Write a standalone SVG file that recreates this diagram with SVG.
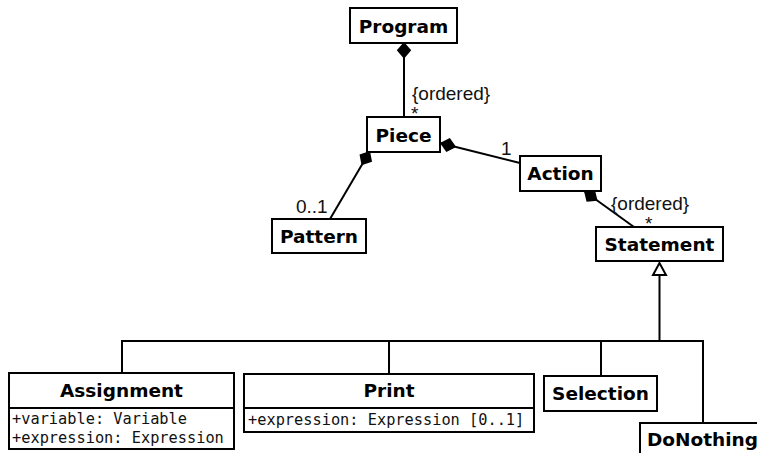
<svg xmlns="http://www.w3.org/2000/svg" width="757" height="453" viewBox="0 0 757 453">
  <style>
    .box { fill: #fff; stroke: #000; stroke-width: 2; }
    .title { font-family: "DejaVu Sans", sans-serif; font-weight: bold; font-size: 18.5px; fill: #000; text-anchor: middle; }
    .attr { font-family: "DejaVu Sans Mono", monospace; font-size: 15.3px; fill: #111; }
    .lbl { font-family: "Liberation Sans", Arial, sans-serif; font-size: 19px; fill: #111; }
    .edge { fill: none; stroke: #000; stroke-width: 2; }
  </style>
  <defs>
    <marker id="diamond" markerUnits="userSpaceOnUse" markerWidth="20" markerHeight="20" viewBox="-1 -8 18 16" refX="0" refY="0" orient="auto">
      <path d="M0,0 L7.5,-6.5 L15,0 L7.5,6.5 Z" fill="#000" stroke="none"/>
    </marker>
  </defs>

  <!-- connectors -->
  <g id="connectors">
    <path class="edge" d="M404,42 L404,117" marker-start="url(#diamond)"/>
    <path class="edge" d="M440,143 L520,163" marker-start="url(#diamond)"/>
    <path class="edge" d="M370,151 L330,219" marker-start="url(#diamond)"/>
    <path class="edge" d="M584,191 L634,227" marker-start="url(#diamond)"/>
    <!-- generalization tree -->
    <path class="edge" d="M659.5,275 L659.5,341"/>
    <path class="edge" d="M122,373 L122,341 L703,341 L703,423"/>
    <path class="edge" d="M389,341 L389,374"/>
    <path class="edge" d="M601,341 L601,376"/>
    <polygon points="659.5,263 653,275 666,275" fill="#fff" stroke="#000" stroke-width="2"/>
    <!-- role labels -->
    <text class="lbl" x="412" y="100">{ordered}</text>
    <text class="lbl" x="411" y="120">*</text>
    <text class="lbl" x="501" y="155">1</text>
    <text class="lbl" x="296" y="213">0..1</text>
    <text class="lbl" x="611" y="210">{ordered}</text>
    <text class="lbl" x="645" y="230">*</text>
  </g>

  <g id="program">
    <rect class="box" x="350" y="8" width="107" height="35"/>
    <text class="title" x="403.5" y="33">Program</text>
  </g>
  <g id="piece">
    <rect class="box" x="367" y="117" width="73" height="35"/>
    <text class="title" x="403.5" y="142">Piece</text>
  </g>
  <g id="action">
    <rect class="box" x="520" y="156" width="81" height="35"/>
    <text class="title" x="560.5" y="180">Action</text>
  </g>
  <g id="pattern">
    <rect class="box" x="272" y="219" width="94" height="34"/>
    <text class="title" x="319" y="243">Pattern</text>
  </g>
  <g id="statement">
    <rect class="box" x="596" y="227" width="127" height="34"/>
    <text class="title" x="659.5" y="251">Statement</text>
  </g>
  <g id="assignment">
    <rect class="box" x="9" y="373" width="225" height="76"/>
    <line x1="9" y1="408" x2="234" y2="408" stroke="#000" stroke-width="2"/>
    <text class="title" x="121.5" y="397">Assignment</text>
    <text class="attr" x="12" y="424">+variable: Variable</text>
    <text class="attr" x="12" y="443">+expression: Expression</text>
  </g>
  <g id="print">
    <rect class="box" x="244" y="374" width="290" height="58"/>
    <line x1="244" y1="408" x2="534" y2="408" stroke="#000" stroke-width="2"/>
    <text class="title" x="389" y="397">Print</text>
    <text class="attr" x="248" y="425">+expression: Expression [0..1]</text>
  </g>
  <g id="selection">
    <rect class="box" x="544" y="376" width="113" height="35"/>
    <text class="title" x="600.5" y="400">Selection</text>
  </g>
  <g id="donothing">
    <rect class="box" x="640" y="423" width="125" height="40"/>
    <text class="title" x="647" y="446" style="text-anchor:start">DoNothing</text>
  </g>
</svg>
